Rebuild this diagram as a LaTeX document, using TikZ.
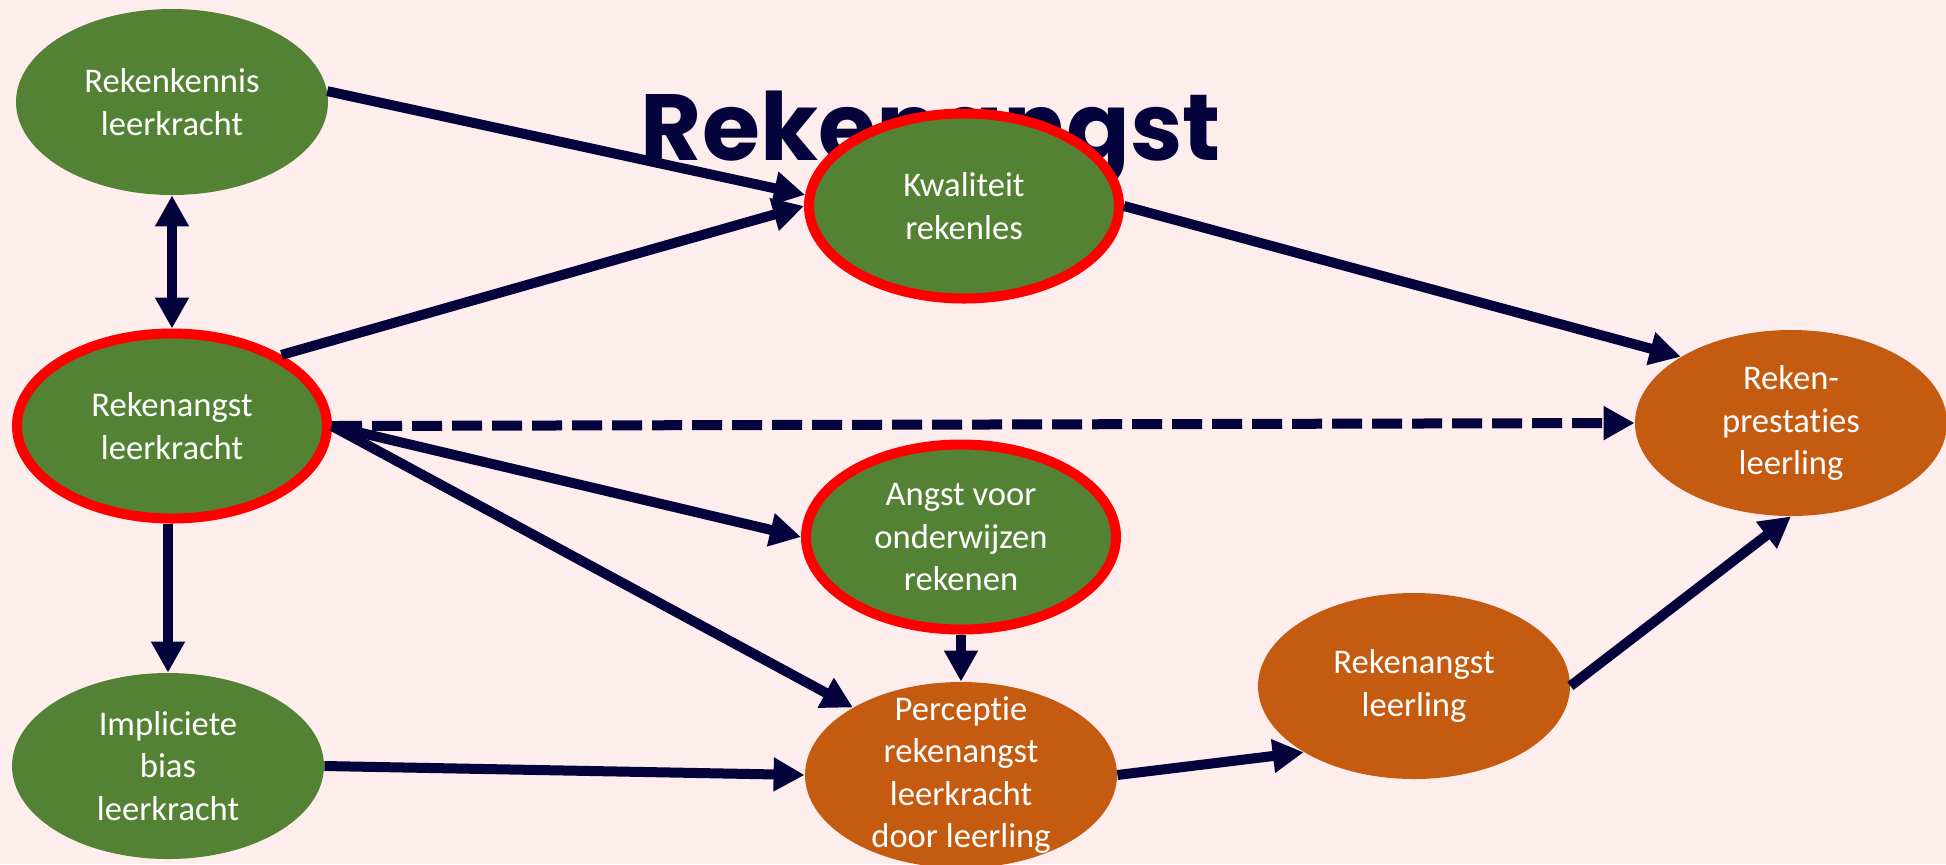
\documentclass[tikz,border=0pt]{standalone}
\usepackage{fontspec}
\setmainfont{Carlito}[Ligatures=NoCommon]
\newfontfamily\titlefont{Poppins}
\usetikzlibrary{shapes.geometric,arrows.meta}
\definecolor{bg}{RGB}{253,237,237}
\definecolor{navy}{RGB}{5,3,60}
\definecolor{grn}{RGB}{84,130,53}
\definecolor{org}{RGB}{197,90,17}
\definecolor{redb}{RGB}{255,0,0}
\begin{document}
\begin{tikzpicture}[x=0.5pt,y=-0.5pt,
  ell/.style={ellipse, inner sep=0pt, minimum width=156pt, minimum height=93pt},
  gnode/.style={ell, fill=grn},
  rnode/.style={ell, fill=grn, draw=redb, line width=5pt, minimum width=155pt, minimum height=92.5pt},
  onode/.style={ell, fill=org},
  txt/.style={text=white, align=center, font=\fontsize{17.3pt}{21.3pt}\selectfont, inner sep=0pt},
  arr/.style={draw=navy, line width=5pt, -{Triangle[length=15.5pt,width=16pt]}},
  arrtwo/.style={draw=navy, line width=5pt, {Triangle[length=15.5pt,width=16pt]}-{Triangle[length=15.5pt,width=16pt]}},
  dashedarr/.style={arr, dash pattern=on 15pt off 5pt}]
\useasboundingbox (0,0) rectangle (1946,864);
\fill[bg] (0,0) rectangle (1946,864);
\node[anchor=base, text=navy, inner sep=0pt, font=\titlefont\bfseries\fontsize{47pt}{47pt}\selectfont] (title) at (931,160) {Rekenangst};
\node[gnode, label={[txt]center:{Rekenkennis\\leerkracht}}] (a) at (172,102) {};
\node[rnode, label={[txt]center:{Kwaliteit\\rekenles}}] (k) at (964,206) {};
\node[rnode, label={[txt]center:{Rekenangst\\leerkracht}}] (r) at (172,426) {};
\node[rnode, label={[txt]center:{Angst voor\\onderwijzen\\rekenen}}] (g) at (961,537) {};
\node[gnode, label={[txt]center:{Impliciete\\bias\\leerkracht}}] (i) at (168,766) {};
\node[onode, label={[txt]center:{Perceptie\\rekenangst\\leerkracht\\door leerling}}] (c) at (961,775) {};
\node[onode, label={[txt]center:{Rekenangst\\leerling}}] (l) at (1414,686) {};
\node[onode, label={[txt]center:{Reken-\\prestaties\\leerling}}] (p) at (1791,423) {};
\draw[arr] (a.4) -- (k.176);
\draw[arr] (r.33) -- (k.west);
\draw[arr] (k.east) -- (p.149);
\draw[arrtwo] (a.south) -- (r.north);
\draw[dashedarr] (r.east) -- (p.west);
\draw[arr] (r.east) -- (g.west);
\draw[arr] (r.east) -- (c.148);
\draw[arr] (r.south -| i.north) -- (i.north);
\draw[arr] (g.south) -- (c.north);
\draw[arr] (i.east) -- (c.west);
\draw[arr] (c.east) -- (l.211);
\draw[arr] (l.east) -- (p.south);
\end{tikzpicture}
\end{document}
